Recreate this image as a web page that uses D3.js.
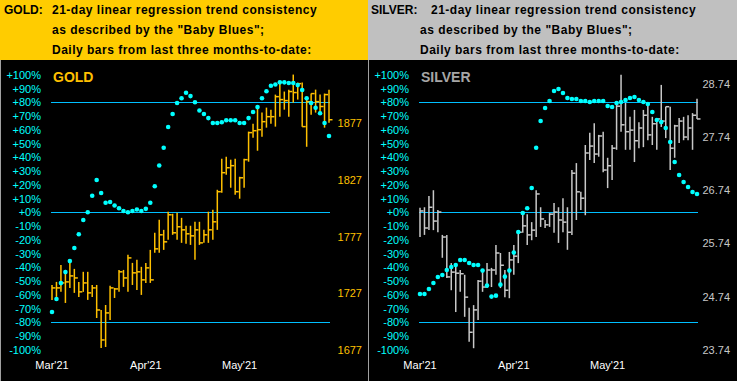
<!DOCTYPE html>
<html>
<head>
<meta charset="utf-8">
<script src="https://cdn.jsdelivr.net/npm/d3@7"></script>
<style>
  html, body { margin: 0; padding: 0; background: #000; }
  svg { display: block; font-family: "Liberation Sans", Arial, sans-serif; }
</style>
</head>
<body>
<div id="chart"></div>
<script>
// month labels and the bar index they sit under
const months = ["Mar'21", "Apr'21", "May'21"];
const monthIdx = [0, 21, 42];

const pctTicks = [100, 90, 80, 70, 60, 50, 40, 30, 20, 10, 0, -10, -20, -30, -40, -50, -60, -70, -80, -90, -100];
const refLevels = [80, 0, -80];

const goldPriceTicks = [1877, 1827, 1777, 1727, 1677];
const silverPriceTicks = [28.74, 27.74, 26.74, 25.74, 24.74, 23.74];

// gold daily bars (high / low / close) and the "Baby Blues" consistency %
const goldHigh = [1734.3,1737,1752,1747.6,1753.8,1748.5,1737,1745.9,1745.9,1734.3,1734.3,1712.2,1716.6,1733.5,1731.7,1747.6,1747.6,1760.9,1753.8,1756.5,1750.3,1753.8,1765.3,1780.4,1791.9,1783,1799,1797.2,1798.1,1793.6,1786.6,1786.6,1790.1,1790.1,1783,1799,1800.7,1818.4,1845.9,1847.6,1845,1845.9,1829.9,1845.9,1869.8,1876.8,1891.9,1886.6,1891,1889.2,1902.5,1914,1905.2,1906.9,1920.2,1913.1,1913.1,1899,1903.4,1906.9,1902.5,1903.4,1906.9];
const goldLow = [1721.1,1723.7,1728.2,1718.4,1731.7,1727.3,1723.7,1728.2,1721.1,1723.7,1705.1,1678.6,1679.5,1703.4,1722.8,1728.2,1732.6,1728.2,1734.3,1729.9,1725.5,1736.1,1736.1,1762.7,1762.7,1765.3,1774.2,1778.6,1774.2,1771.5,1770.6,1769.7,1756.5,1769.7,1771.5,1771.5,1774.2,1783,1815.8,1831.7,1820.2,1814,1810.5,1820.2,1843.2,1864.4,1852.9,1865.3,1873.3,1876.8,1874.2,1883,1889.2,1883,1895.4,1898.1,1874.2,1856.4,1884.8,1886.6,1884.8,1873.3,1877.7];
const goldClose = [1731.7,1731.7,1736.1,1737,1742.3,1740.5,1728.2,1736.1,1727.3,1731.7,1712.2,1685.7,1709.6,1731.7,1730.8,1745.9,1740.5,1758.2,1745,1745.9,1738.8,1749.4,1738.8,1766.2,1778.6,1772.4,1796.3,1780.4,1785.7,1783,1779.5,1777.7,1783,1771.5,1778.6,1783,1790.1,1816.7,1833.5,1837.9,1839.7,1816.7,1829,1845,1868.9,1870.6,1871.5,1878.6,1883,1883,1900.7,1898.1,1897.2,1905.2,1904.3,1912.2,1874.2,1896.3,1903.4,1896.3,1892,1902.5,1880.3];
const goldBlues = [-72.5,-63,-51.5,-43.5,-35.5,-26,-16,-5.6,0,12,23.5,14,7,7.5,5,3,1,0,1,2,1,2.5,7,19,34,47,62,71.5,79.5,83,87,84.5,80,74,71.5,68.5,65,65,65.5,67,67,67,65,65,68.5,73,76.5,83,88,92,93,94.5,94.5,94,94,92.5,89,83,79.5,76,72,65,55.5];

// silver daily bars and its "Baby Blues"
const silverHigh = [26.41,26.42,26.63,26.74,26.37,25.90,25.90,25.37,25.30,25.24,25.15,24.53,24.58,25.05,25.24,25.37,25.28,25.71,25.56,25.24,25.58,25.71,25.99,26.31,26.29,26.14,26.74,26.42,26.18,26.31,26.50,26.42,26.59,26.42,27.12,27.25,26.71,27.59,27.82,28.00,27.78,27.84,27.35,27.59,28.40,28.91,28.38,28.12,28.25,28.02,28.25,28.34,28.12,28.10,28.72,28.31,28.31,27.97,28.10,28.12,28.15,28.19,28.46];
const silverLow = [25.86,25.90,25.99,25.99,25.95,25.47,25.09,24.86,24.45,24.83,24.36,23.89,23.77,24.30,24.83,24.90,24.92,25.15,24.90,24.73,24.71,25.15,25.37,25.94,25.71,25.80,25.86,26.05,26.03,26.05,25.94,25.75,25.95,25.62,25.90,26.18,26.37,26.27,27.31,27.25,27.37,27.08,26.78,26.93,27.50,27.84,27.50,27.50,27.27,27.53,27.55,27.68,27.59,27.50,27.93,27.72,27.12,27.35,27.63,27.68,27.68,27.50,28.08];
const silverClose = [26.35,26.03,26.42,26.16,26.33,25.86,25.11,25.20,25.18,25.17,24.73,24.07,24.49,25.03,24.92,25.24,25.24,25.56,25.33,24.86,25.43,25.50,25.95,26.07,25.90,25.99,26.67,26.20,26.09,26.29,26.33,26.18,26.14,25.95,27.06,26.71,26.59,27.44,27.57,27.42,27.76,27.12,27.20,27.53,28.32,27.97,27.84,27.87,27.67,27.91,28.15,27.78,27.99,28.08,28.04,28.31,27.53,27.95,28.04,27.74,27.91,28.15,28.08];
const silverBlues = [-59.4,-59.4,-55.8,-51.4,-47,-45.6,-42,-39.8,-38.3,-34.7,-34.7,-36.9,-38.3,-38.3,-42.4,-53.3,-61.3,-60.6,-52.6,-46.8,-42.4,-29.3,-14.3,-0.5,3,17.7,47,66.4,75.8,80.9,88.2,89.7,86.8,83.1,82.4,82.4,81,81,80.2,81,81,81,77.3,76.6,79.5,80.2,81.7,83.1,83.8,81.7,80.2,78.8,72.9,67.1,65.6,61.3,51.1,36.6,27.1,22,18.4,14.8,13.3];

document.addEventListener('DOMContentLoaded', () => {
    try {
        const width = 737;
        const height = 381;
        const headerH = 60;

        const svg = d3.select("#chart")
            .append("svg")
            .attr("width", width)
            .attr("height", height);

        svg.append("rect").attr("width", width).attr("height", height).attr("fill", "#000");

        const panels = [
            {
                x0: 0, w: 368, head: "#FFCC00", bar: "#FFC000", name: "GOLD", nameColor: "#FFC000",
                lead: "GOLD:", leadX: 4, firstX: 52, restX: 52,
                high: goldHigh, low: goldLow, close: goldClose, blues: goldBlues,
                priceTicks: goldPriceTicks, priceDomain: [1677, 1920], fmt: d3.format("d")
            },
            {
                x0: 368, w: 369, head: "#C0C0C0", bar: "#C8C8C8", name: "SILVER", nameColor: "#A6A6A6",
                lead: "SILVER:", leadX: 3, firstX: 63, restX: 52,
                high: silverHigh, low: silverLow, close: silverClose, blues: silverBlues,
                priceTicks: silverPriceTicks, priceDomain: [23.74, 28.91], fmt: d3.format(".2f")
            }
        ];

        const titleLines = [
            '21-day linear regression trend consistency',
            'as described by the "Baby Blues";',
            'Daily bars from last three months-to-date:'
        ];

        const yPct = d3.scaleLinear().domain([-100, 100]).range([349.8, 74.8]);

        panels.forEach(p => {
            const g = svg.append("g").attr("transform", `translate(${p.x0},0)`);

            // header
            g.append("rect").attr("width", p.w).attr("height", headerH).attr("fill", p.head);
            g.append("text").attr("x", p.leadX).attr("y", 14)
                .attr("font-size", 12).attr("font-weight", "bold").attr("fill", "#000")
                .text(p.lead);
            g.selectAll("text.title")
                .data(titleLines)
                .enter()
                .append("text")
                .attr("class", "title")
                .attr("x", (d, i) => i === 0 ? p.firstX : p.restX)
                .attr("y", (d, i) => 14 + i * 20)
                .attr("font-size", 12)
                .attr("font-weight", "bold")
                .attr("letter-spacing", 0.5)
                .attr("fill", "#000")
                .text(d => d);

            // border on the left of each panel
            g.append("line")
                .attr("x1", 0.5).attr("x2", 0.5)
                .attr("y1", headerH).attr("y2", height)
                .attr("stroke", "#A0A0A0").attr("stroke-width", 1);

            const x = d3.scaleLinear().domain([0, p.high.length - 1]).range([52, 329]);
            const yPrice = d3.scaleLinear().domain(p.priceDomain).range([349.8, 74.8]);

            // percent axis
            g.selectAll("text.pct")
                .data(pctTicks)
                .enter()
                .append("text")
                .attr("class", "pct")
                .attr("x", 41)
                .attr("y", d => yPct(d))
                .attr("dy", "0.36em")
                .attr("text-anchor", "end")
                .attr("font-size", 11)
                .attr("fill", "#00FFFF")
                .text(d => (d >= 0 ? "+" : "") + d + "%");

            // price axis on the right
            g.selectAll("text.price")
                .data(p.priceTicks)
                .enter()
                .append("text")
                .attr("class", "price")
                .attr("x", 362)
                .attr("y", d => yPrice(d))
                .attr("dy", "0.36em")
                .attr("text-anchor", "end")
                .attr("font-size", 11)
                .attr("fill", p.bar)
                .text(d => p.fmt(d));

            // month labels
            g.selectAll("text.month")
                .data(months)
                .enter()
                .append("text")
                .attr("class", "month")
                .attr("x", (d, i) => x(monthIdx[i]))
                .attr("y", 369)
                .attr("text-anchor", "middle")
                .attr("font-size", 11)
                .attr("fill", "#fff")
                .text(d => d);

            // +80 / 0 / -80 reference lines
            g.selectAll("line.ref")
                .data(refLevels)
                .enter()
                .append("line")
                .attr("class", "ref")
                .attr("x1", 51).attr("x2", 330)
                .attr("y1", d => Math.round(yPct(d)) + 0.5)
                .attr("y2", d => Math.round(yPct(d)) + 0.5)
                .attr("stroke", "#00BFFF")
                .attr("stroke-width", 1);

            // panel name
            g.append("text").attr("x", 53).attr("y", 82)
                .attr("font-size", 14).attr("font-weight", "bold")
                .attr("fill", p.nameColor)
                .text(p.name);

            // HLC bars
            const idx = d3.range(p.high.length);
            const bars = g.append("g").attr("stroke", p.bar).attr("stroke-width", 1.5);
            bars.selectAll("line.hl")
                .data(idx)
                .enter()
                .append("line")
                .attr("x1", i => x(i)).attr("x2", i => x(i))
                .attr("y1", i => yPrice(p.high[i])).attr("y2", i => yPrice(p.low[i]));
            bars.selectAll("line.cl")
                .data(idx)
                .enter()
                .append("line")
                .attr("x1", i => x(i)).attr("x2", i => x(i) + 3.5)
                .attr("y1", i => yPrice(p.close[i])).attr("y2", i => yPrice(p.close[i]));

            // Baby Blues dots
            g.append("g").selectAll("circle")
                .data(idx)
                .enter()
                .append("circle")
                .attr("cx", i => x(i))
                .attr("cy", i => yPct(p.blues[i]))
                .attr("r", 2.3)
                .attr("fill", "#00FFFF");
        });

        console.log("chart drawn");
    } catch (error) {
        console.error("An error occurred:", error);
    }
});
</script>
</body>
</html>
